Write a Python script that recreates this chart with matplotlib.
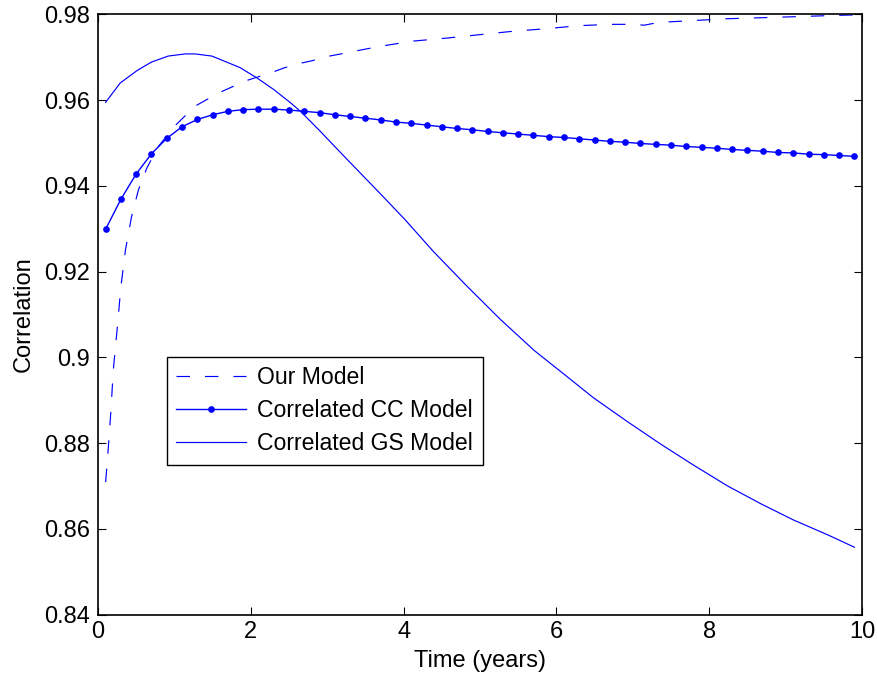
import matplotlib
matplotlib.use("Agg")
import matplotlib.pyplot as plt
from matplotlib.ticker import FuncFormatter

# ---- data ----
t_cc = [0.1, 0.3, 0.5, 0.7, 0.9, 1.1, 1.3, 1.5, 1.7, 1.9,
        2.1, 2.3, 2.5, 2.7, 2.9, 3.1, 3.3, 3.5, 3.7, 3.9,
        4.1, 4.3, 4.5, 4.7, 4.9, 5.1, 5.3, 5.5, 5.7, 5.9,
        6.1, 6.3, 6.5, 6.7, 6.9, 7.1, 7.3, 7.5, 7.7, 7.9,
        8.1, 8.3, 8.5, 8.7, 8.9, 9.1, 9.3, 9.5, 9.7, 9.9]
cc_model = [0.9299, 0.9369, 0.9428, 0.9475, 0.9511, 0.9538, 0.9555, 0.9566, 0.9574, 0.9578,
            0.9579, 0.9579, 0.9577, 0.9574, 0.9571, 0.9566, 0.9562, 0.9558, 0.9554, 0.9549,
            0.9546, 0.9542, 0.9538, 0.9534, 0.9531, 0.9527, 0.9524, 0.9521, 0.9518, 0.9515,
            0.9513, 0.9510, 0.9507, 0.9504, 0.9502, 0.9499, 0.9497, 0.9495, 0.9492, 0.9490,
            0.9488, 0.9485, 0.9483, 0.9481, 0.9478, 0.9477, 0.9474, 0.9473, 0.9471, 0.9469]

t_our = [0.1, 0.13, 0.17, 0.2, 0.25, 0.3, 0.36, 0.44, 0.53, 0.64,
         0.79, 1.0, 1.27, 1.58, 1.93, 2.28, 2.43, 2.62, 2.8, 2.97,
         3.15, 3.35, 3.7, 4.13, 4.57, 5.0, 5.44, 5.88, 6.3, 6.72,
         7.0, 7.15, 7.35, 7.5, 8.22, 8.97, 9.68, 9.9]
our_model = [0.8709, 0.8776, 0.8877, 0.8970, 0.9064, 0.9165, 0.9251, 0.9329, 0.9391, 0.9442,
             0.9492, 0.9539, 0.9586, 0.9617, 0.9645, 0.9665, 0.9675, 0.9685, 0.9692, 0.9701,
             0.9707, 0.9714, 0.9726, 0.9738, 0.9745, 0.9753, 0.9761, 0.9767, 0.9774, 0.9777,
             0.9777, 0.9775, 0.9782, 0.9783, 0.9790, 0.9794, 0.9798, 0.9799]

t_gs = [0.1, 0.29, 0.51, 0.7, 0.92, 1.14, 1.27, 1.49, 1.71, 1.86,
        2.08, 2.3, 2.52, 2.65, 2.89, 3.26, 3.7, 4.02, 4.39, 4.83,
        5.27, 5.71, 6.14, 6.49, 6.93, 7.37, 7.8, 8.24, 8.68, 9.11,
        9.55, 9.9]
gs_model = [0.9595, 0.9640, 0.9669, 0.9689, 0.9703, 0.9708, 0.9708, 0.9703, 0.9687, 0.9676,
            0.9652, 0.9625, 0.9594, 0.9574, 0.9531, 0.9462, 0.9381, 0.9321, 0.9247, 0.9166,
            0.9088, 0.9016, 0.8955, 0.8905, 0.8850, 0.8797, 0.8748, 0.8700, 0.8658, 0.8620,
            0.8586, 0.8557]

x_ticks = [0, 2, 4, 6, 8, 10]
y_ticks = [0.84, 0.86, 0.88, 0.90, 0.92, 0.94, 0.96, 0.98]

plt.rcParams['font.family'] = ['Liberation Sans', 'DejaVu Sans']
plt.rcParams['font.size'] = 17
plt.rcParams['lines.scale_dashes'] = False

fig = plt.figure(figsize=(8.78, 6.8), dpi=100)
ax = fig.add_axes([0.1116, 0.0963, 0.8702, 0.8824])

ax.plot(t_our, our_model, color='#0000ff', lw=0.85, dashes=(9.7, 10.8), label='Our Model')
ax.plot(t_cc, cc_model, color='#0000ff', lw=1.0, marker='o', markersize=3.8,
        label='Correlated CC Model')
ax.plot(t_gs, gs_model, color='#0000ff', lw=0.85, label='Correlated GS Model')

ax.set_xlim(0, 10)
ax.set_ylim(0.84, 0.98)
ax.set_xticks(x_ticks)
ax.set_yticks(y_ticks)
ax.yaxis.set_major_formatter(FuncFormatter(lambda v, p: f'{v:g}'))
ax.tick_params(direction='in', length=5.5, width=0.8, top=True, right=True)
ax.tick_params(axis='y', pad=6)
ax.tick_params(axis='x', pad=5)
for s in ax.spines.values():
    s.set_linewidth(1.2)

ax.set_xlabel('Time (years)', labelpad=5)
ax.set_ylabel('Correlation', labelpad=6.5)

leg = ax.legend(loc='lower left', bbox_to_anchor=(0.090, 0.250), borderaxespad=0,
                fancybox=False, framealpha=1, edgecolor='black', fontsize=16.6,
                handlelength=3.0, handletextpad=0.5, labelspacing=0.42,
                borderpad=0.42)
leg.get_frame().set_linewidth(1.0)

fig.savefig('out.png', dpi=100)
